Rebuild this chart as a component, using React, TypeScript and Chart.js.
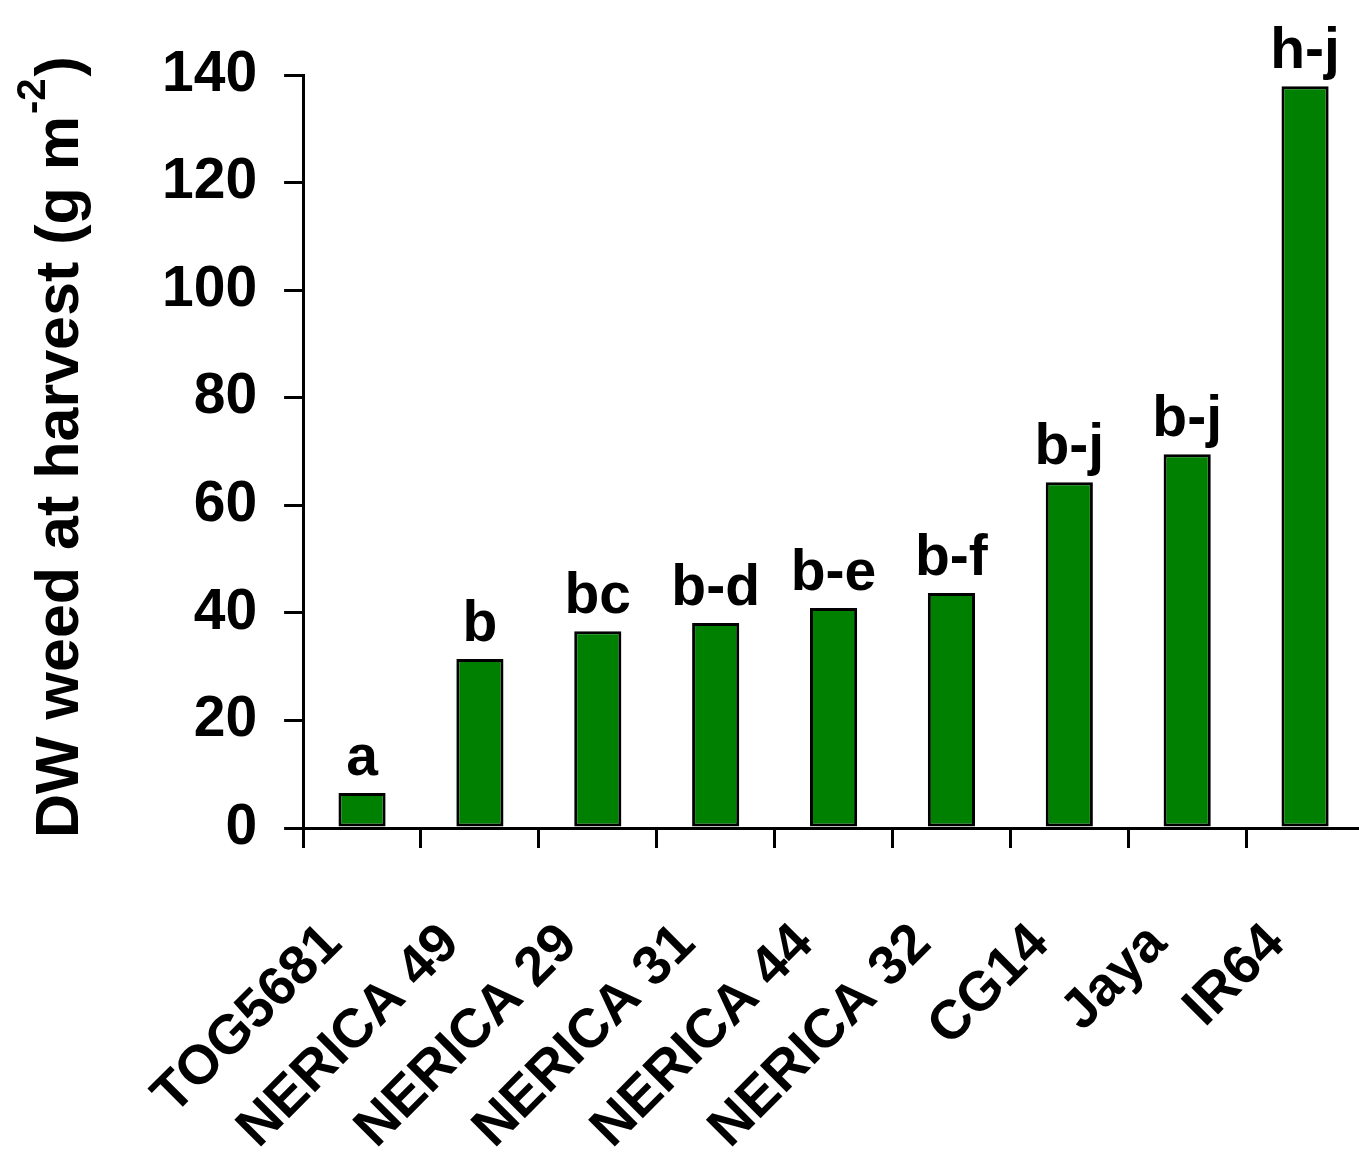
import React, { useEffect, useRef } from "react";
import { Chart, registerables } from "chart.js";

Chart.register(...registerables);

const categories = ["TOG5681", "NERICA 49", "NERICA 29", "NERICA 31", "NERICA 44", "NERICA 32", "CG14", "Jaya", "IR64"];
const dwWeed = [6.5, 31.4, 36.6, 38.1, 40.9, 43.7, 64.3, 69.5, 137.9];
const letters = ["a", "b", "bc", "b-d", "b-e", "b-f", "b-j", "b-j", "h-j"];
const yTicks = [0, 20, 40, 60, 80, 100, 120, 140];
const yTitleMain = "DW weed at harvest (g m";
const yTitleSup = "-2";
const yTitleEnd = ")";

const FONT = '"Liberation Sans", Arial, Helvetica, sans-serif';

export default function App() {
  const ref = useRef<HTMLCanvasElement>(null);

  useEffect(() => {
    if (!ref.current) return;
    const overlay = {
      id: "overlay",
      afterDraw(chart: any) {
        const ctx = chart.ctx;
        const meta = chart.getDatasetMeta(0);
        const xs = chart.scales.x;
        const area = chart.chartArea;
        ctx.save();
        ctx.fillStyle = "#000";
        // significance letters
        ctx.font = `bold 57px ${FONT}`;
        ctx.textAlign = "center";
        ctx.textBaseline = "alphabetic";
        meta.data.forEach((bar: any, i: number) => {
          ctx.fillText(letters[i], bar.x, bar.y - 18);
        });
        // rotated category labels
        ctx.font = `bold 55px ${FONT}`;
        ctx.textAlign = "right";
        ctx.textBaseline = "middle";
        categories.forEach((c, i) => {
          const px = xs.getPixelForValue(i);
          ctx.save();
          ctx.translate(px - 29, area.bottom + 107);
          ctx.rotate(-Math.PI / 4);
          ctx.fillText(c, 0, 0);
          ctx.restore();
        });
        // y axis title with superscript
        ctx.save();
        ctx.translate(78, area.bottom + 10);
        ctx.rotate(-Math.PI / 2);
        ctx.textAlign = "left";
        ctx.textBaseline = "alphabetic";
        ctx.font = `bold 61px ${FONT}`;
        ctx.fillText(yTitleMain, 0, 0);
        let w = ctx.measureText(yTitleMain).width;
        ctx.font = `bold 40px ${FONT}`;
        ctx.fillText(yTitleSup, w + 2, -33);
        w += ctx.measureText(yTitleSup).width + 4;
        ctx.font = `bold 61px ${FONT}`;
        ctx.fillText(yTitleEnd, w, 0);
        ctx.restore();
        ctx.restore();
      },
    };

    const chart = new Chart(ref.current, {
      type: "bar",
      data: {
        labels: categories,
        datasets: [
          {
            data: dwWeed,
            backgroundColor: "#008000",
            borderColor: "#000",
            borderWidth: 3,
            borderSkipped: false,
            barPercentage: 0.4,
            categoryPercentage: 1,
          },
        ],
      },
      options: {
        animation: false,
        responsive: false,
        devicePixelRatio: 1,
        layout: { padding: { left: 135, right: 0, top: 75, bottom: 312 } },
        plugins: { legend: { display: false }, tooltip: { enabled: false } },
        scales: {
          x: {
            type: "category",
            grid: { offset: true, drawOnChartArea: false, color: "#000", lineWidth: 3, tickLength: 20 },
            border: { color: "#000", width: 3 },
            ticks: { display: false },
          },
          y: {
            min: 0,
            max: 140,
            afterBuildTicks: (s: any) => {
              s.ticks = yTicks.map((v) => ({ value: v }));
            },
            grid: { drawOnChartArea: false, color: "#000", lineWidth: 3, tickLength: 19 },
            border: { color: "#000", width: 3 },
            ticks: {
              color: "#000",
              padding: 27,
              font: { size: 57, weight: "bold", family: FONT },
            },
          },
        },
      },
      plugins: [overlay],
    });
    return () => chart.destroy();
  }, []);

  return (
    <div style={{ position: "absolute", left: 0, top: 0, width: 1359, height: 1160, overflow: "hidden", background: "#fff" }}>
      <canvas ref={ref} width={1364} height={1160} style={{ display: "block" }} />
    </div>
  );
}
